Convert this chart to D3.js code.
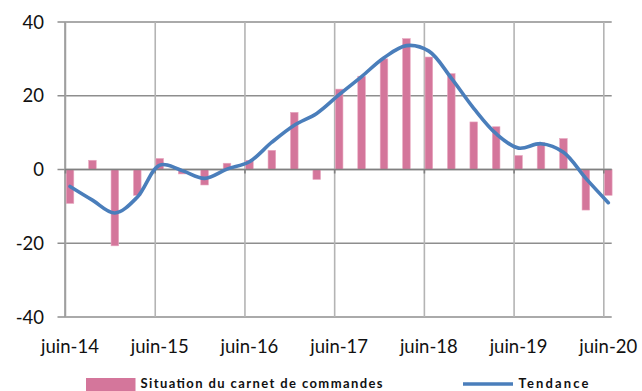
<!DOCTYPE html>
<html>
<head>
<meta charset="utf-8">
<script src="https://cdn.jsdelivr.net/npm/d3@7"></script>
<style>
  html, body { margin: 0; padding: 0; background: #fff; }
  svg { display: block; }
  text { font-family: Lato, "Open Sans", sans-serif; fill: #111; }
</style>
</head>
<body>
<svg id="chart" width="642" height="391"></svg>
<script>
// Quarterly observations, June 2014 to June 2020
const quarters = [
  "juin-14", "sept-14", "déc-14", "mars-15",
  "juin-15", "sept-15", "déc-15", "mars-16",
  "juin-16", "sept-16", "déc-16", "mars-17",
  "juin-17", "sept-17", "déc-17", "mars-18",
  "juin-18", "sept-18", "déc-18", "mars-19",
  "juin-19", "sept-19", "déc-19", "mars-20",
  "juin-20"
];
// Situation du carnet de commandes (solde d'opinion)
const carnet = [
  -9.2, 2.5, -20.7, -7.0,
  3.0, -1.2, -4.2, 1.7,
  2.5, 5.2, 15.5, -2.7,
  21.8, 25.3, 30.0, 35.5,
  30.5, 26.0, 12.9, 11.6,
  3.8, 7.3, 8.4, -11.0,
  -7.0
];
// Tendance (lissée)
const tendance = [
  -4.6, -8.3, -11.8, -7.5,
  1.2, -0.3, -2.4, 0.1,
  2.1, 7.4, 12.0, 15.2,
  20.3, 25.2, 30.3, 33.6,
  32.1, 24.8, 16.6, 9.7,
  5.8, 7.0, 4.7, -2.4,
  -9.0
];
const yTicks = [-40, -20, 0, 20, 40];
const xTickLabels = ["juin-14", "juin-15", "juin-16", "juin-17", "juin-18", "juin-19", "juin-20"];
const seriesNames = ["Situation du carnet de commandes", "Tendance"];

const svg = d3.select("#chart");
const pink = "#d4769b";
const blue = "#4a7ebb";

const plot = { left: 65, right: 611.7, top: 22, bottom: 317 };

// Category index -> horizontal position (first and last observation centres)
const x = d3.scaleLinear().domain([0, quarters.length - 1]).range([70, 608.3]);
const y = d3.scaleLinear().domain([-40, 40]).range([plot.bottom, plot.top]);

// Year gridlines sit slightly before each June observation
const gridOffset = -0.2;
const yearIdx = xTickLabels.map(l => quarters.indexOf(l));

// Horizontal gridlines (extend left as tick marks)
svg.append("g").selectAll("line").data(yTicks).join("line")
  .attr("x1", plot.left - 7.5).attr("x2", plot.right)
  .attr("y1", d => y(d)).attr("y2", d => y(d))
  .attr("stroke", "#8e8e8e").attr("stroke-width", 1.6);

// Vertical gridlines
svg.append("g").selectAll("line").data(yearIdx).join("line")
  .attr("x1", d => x(d + gridOffset)).attr("x2", d => x(d + gridOffset))
  .attr("y1", plot.top).attr("y2", plot.bottom)
  .attr("stroke", "#b4b4b4").attr("stroke-width", 1.6);

// Vertical axis line
svg.append("line")
  .attr("x1", plot.left).attr("x2", plot.left)
  .attr("y1", plot.top).attr("y2", plot.bottom)
  .attr("stroke", "#9a9a9a").attr("stroke-width", 1.6);

// Y tick labels
svg.append("g").selectAll("text").data(yTicks).join("text")
  .attr("x", 44).attr("y", d => y(d))
  .attr("dy", "0.36em")
  .attr("text-anchor", "end")
  .attr("font-size", 18.5)
  .text(d => d);

// Bars
const barW = 7.6;
svg.append("g").selectAll("rect").data(carnet).join("rect")
  .attr("x", (d, i) => x(i) - barW / 2)
  .attr("width", barW)
  .attr("y", d => y(Math.max(0, d)))
  .attr("height", d => Math.abs(y(d) - y(0)))
  .attr("fill", pink)
  .attr("stroke", "#e8a8c0").attr("stroke-width", 0.6);

// Horizontal axis at zero with small tick marks
svg.append("line")
  .attr("x1", plot.left).attr("x2", plot.right)
  .attr("y1", y(0)).attr("y2", y(0))
  .attr("stroke", "#808080").attr("stroke-width", 1.6);
svg.append("g").selectAll("line").data(yearIdx).join("line")
  .attr("x1", d => x(d + gridOffset)).attr("x2", d => x(d + gridOffset))
  .attr("y1", y(0)).attr("y2", y(0) + 4)
  .attr("stroke", "#808080").attr("stroke-width", 1.6);

// Trend line
const line = d3.line()
  .x((d, i) => x(i))
  .y(d => y(d))
  .curve(d3.curveCatmullRom.alpha(0.5));
svg.append("path")
  .datum(tendance)
  .attr("d", line)
  .attr("fill", "none")
  .attr("stroke", blue)
  .attr("stroke-width", 3.6)
  .attr("stroke-linejoin", "round")
  .attr("stroke-linecap", "round");

// X tick labels
svg.append("g").selectAll("text").data(yearIdx).join("text")
  .attr("x", d => x(d)).attr("y", 353)
  .attr("text-anchor", "middle")
  .attr("font-size", 18.5)
  .text((d, i) => xTickLabels[i]);

// Legend
const legend = svg.append("g");
legend.append("rect")
  .attr("x", 86).attr("y", 378).attr("width", 49.5).attr("height", 13)
  .attr("fill", pink);
legend.append("text")
  .attr("x", 140.5).attr("y", 388)
  .attr("font-size", 13).attr("font-weight", "bold")
  .attr("textLength", 242).attr("lengthAdjust", "spacing")
  .text(seriesNames[0]);
legend.append("line")
  .attr("x1", 463).attr("x2", 513)
  .attr("y1", 384).attr("y2", 384)
  .attr("stroke", blue).attr("stroke-width", 3.4);
legend.append("text")
  .attr("x", 518.5).attr("y", 388)
  .attr("font-size", 13).attr("font-weight", "bold")
  .attr("textLength", 70).attr("lengthAdjust", "spacing")
  .text(seriesNames[1]);
</script>
</body>
</html>
